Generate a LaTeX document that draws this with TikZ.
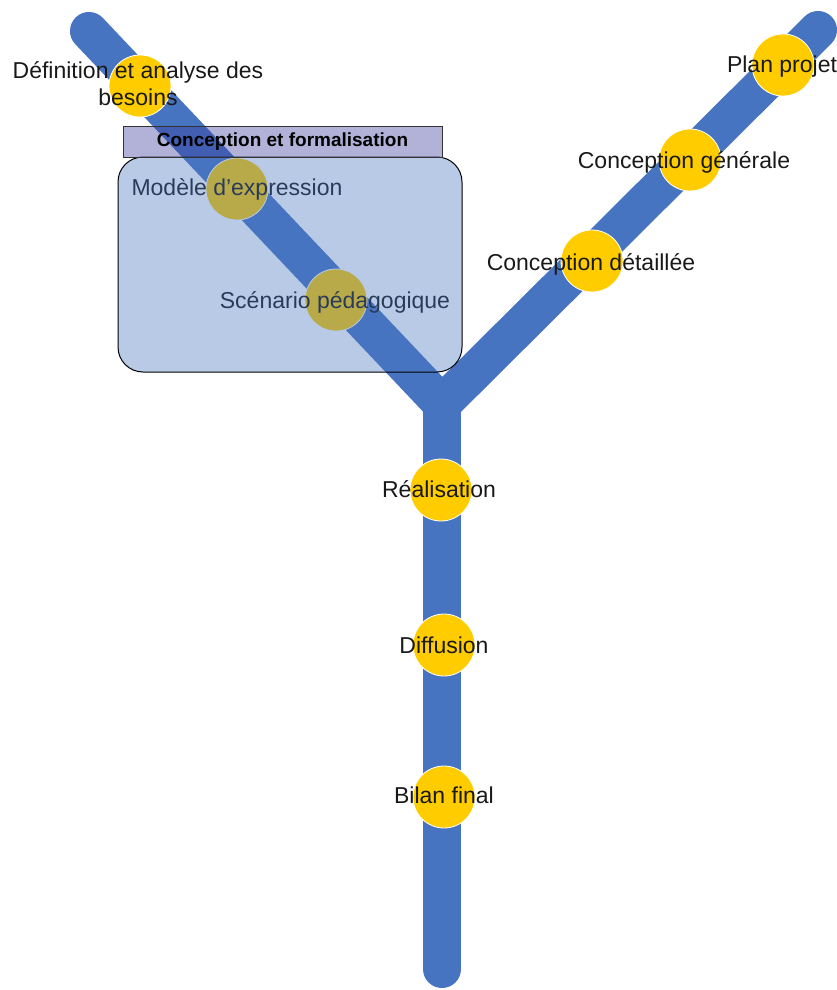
\documentclass[tikz,border=0pt]{standalone}
\usepackage{fontspec}
\setmainfont{Liberation Sans}

\definecolor{ligne}{RGB}{70,116,193}
\definecolor{jaune}{RGB}{255,204,0}
\definecolor{lavande}{RGB}{62,62,157}

\tikzset{
  etape/.style={circle, fill=jaune, draw=white, line width=0.8pt, minimum size=62pt, inner sep=0pt},
  etiquette/.style={text=black!90, font=\fontsize{23}{27.5}\selectfont, align=center, inner sep=0pt}
}

\begin{document}
\begin{tikzpicture}[x=1pt,y=-1pt] % 1 unite = 1 pixel de l'image

  \useasboundingbox (0,0) rectangle (837,990);

  % Ligne en Y
  \coordinate (hautG) at (89,31);
  \coordinate (fourche) at (442,404);
  \coordinate (hautD) at (818,30);
  \coordinate (bas) at (442,969);
  \draw[ligne, line width=38pt, line cap=round, line join=miter] (hautG) -- (fourche) -- (hautD);
  \draw[ligne, line width=38pt, line cap=round] (fourche) -- (bas);

  % Etapes (cercles jaunes)
  \node[etape] (besoins) at (140,86) {};
  \node[etape] (modele) at (237,189) {};
  \node[etape] (scenario) at (336,300) {};
  \node[etape] (plan) at (783,65) {};
  \node[etape] (cgen) at (690,160) {};
  \node[etape] (cdet) at (592,261) {};
  \node[etape] (real) at (441,490) {};
  \node[etape] (diff) at (444,645) {};
  \node[etape] (bilan) at (444,797) {};

  % Etiquettes
  \node[etiquette] (tbesoins) at (138,83.5) {Définition et analyse des\\besoins};
  \node[etiquette, anchor=base] (tmodele) at (237,195) {Modèle d’expression};
  \node[etiquette, anchor=base] (tscenario) at (335,308) {Scénario pédagogique};
  \node[etiquette, anchor=base] (tplan) at (782,72) {Plan projet};
  \node[etiquette, anchor=base] (tcgen) at (684,168) {Conception générale};
  \node[etiquette, anchor=base] (tcdet) at (591,270) {Conception détaillée};
  \node[etiquette, anchor=base] (treal) at (439,497) {Réalisation};
  \node[etiquette, anchor=base] (tdiff) at (444,653) {Diffusion};
  \node[etiquette, anchor=base] (tbilan) at (444,803) {Bilan final};

  % Bloc "Conception et formalisation" (transparent)
  \filldraw[draw=black, line width=1pt, fill=ligne, fill opacity=0.38, rounded corners=25pt] (118,157) rectangle (462,372);
  \node[draw=black!80, line width=1pt, fill=lavande, fill opacity=0.4, text opacity=1,
        minimum width=319pt, minimum height=31pt, inner sep=0pt,
        font=\bfseries\fontsize{19}{22}\selectfont] (titre) at (282.5,141.5) {Conception et formalisation};

\end{tikzpicture}
\end{document}
